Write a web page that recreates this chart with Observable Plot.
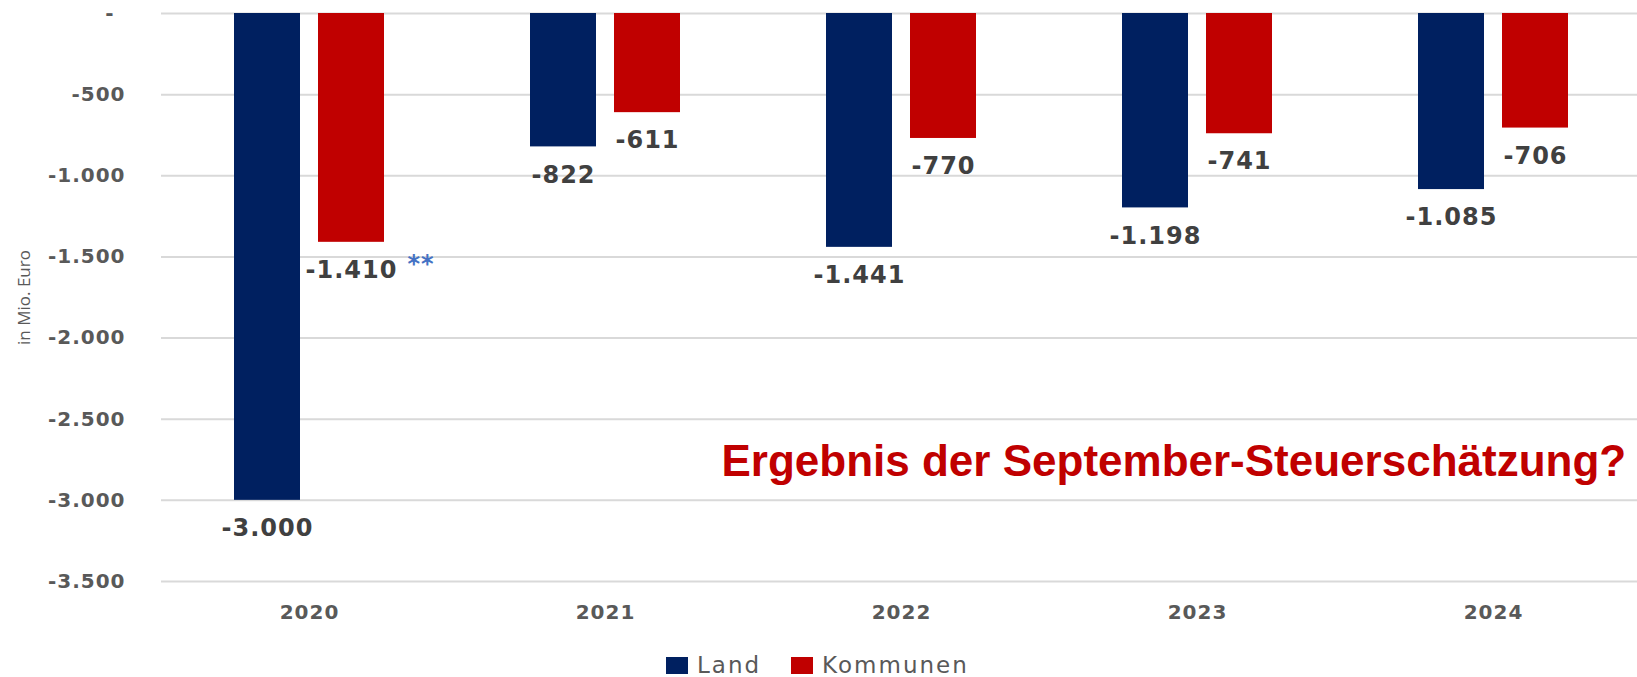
<!DOCTYPE html>
<html><head><meta charset="utf-8">
<script src="https://cdn.jsdelivr.net/npm/d3@7"></script>
<script src="https://cdn.jsdelivr.net/npm/@observablehq/plot@0.6"></script>
<style>
html,body{margin:0;padding:0;background:#fff;overflow:hidden;}
#wrap{position:relative;width:1637px;height:677px;}
#wrap svg text{letter-spacing:1px;}
.legend{position:absolute;top:652px;left:666px;display:flex;align-items:center;font-family:"DejaVu Sans";font-size:23px;letter-spacing:2px;color:#595959;line-height:26px;}
.legend .item{display:flex;align-items:center;margin-right:30px;}
.legend .sw{display:inline-block;width:22px;height:17px;margin-right:9px;}
</style></head><body><div id="wrap"></div>
<script>
const years = ["2020", "2021", "2022", "2023", "2024"];
const land = [-3000, -822, -1441, -1198, -1085];
const kommunen = [-1410, -611, -770, -741, -706];
const seriesNames = ["Land", "Kommunen"];
const seriesColors = ["#002060", "#c00000"];
const yTicks = [0, -500, -1000, -1500, -2000, -2500, -3000, -3500];
const footnotes = [{year: "2020", value: -1410, mark: "**"}];
const annotation = [{year: "2022", value: -2760, text: "Ergebnis der September-Steuerschätzung?"}];
const yLabel = "in Mio. Euro";

const de = d3.formatLocale({decimal: ",", thousands: ".", grouping: [3], currency: ["", " €"], minus: "-"});
const fmt = de.format(",d");
const tickFmt = d => d === 0 ? "-\u2002" : fmt(d);

const landRows = years.map((y, i) => ({year: y, value: land[i]}));
const kommRows = years.map((y, i) => ({year: y, value: kommunen[i]}));

const chart = Plot.plot({
  width: 1637,
  height: 640,
  marginTop: 13,
  marginBottom: 59,
  marginLeft: 161,
  marginRight: 0,
  style: {fontFamily: "DejaVu Sans", background: "#fff", color: "#595959"},
  x: {domain: years, range: [161, 1641], padding: 0},
  y: {domain: [-3500, 0]},
  marks: [
    Plot.ruleY(yTicks, {stroke: "#d9d9d9", strokeWidth: 2}),
    Plot.barY(landRows, {x: "year", y: "value", fill: seriesColors[0], dx: -42, insetLeft: 115, insetRight: 115}),
    Plot.barY(kommRows, {x: "year", y: "value", fill: seriesColors[1], dx: 42, insetLeft: 115, insetRight: 115}),
    Plot.text(landRows, {x: "year", y: "value", text: d => fmt(d.value), dx: -42, dy: 28, fontSize: 24, fontWeight: "bold", fill: "#404040"}),
    Plot.text(kommRows, {x: "year", y: "value", text: d => fmt(d.value), dx: 42, dy: 28, fontSize: 24, fontWeight: "bold", fill: "#404040"}),
    Plot.text(footnotes, {x: "year", y: "value", text: "mark", dx: 98, dy: 22, textAnchor: "start", fontSize: 24, fontWeight: "bold", fill: "#4472c4"}),
    Plot.text(annotation, {x: "year", y: "value", text: "text", dx: -180, textAnchor: "start", fontSize: 44, fontWeight: "bold", fontFamily: "Liberation Sans", fill: "#c00000"}),
    Plot.axisY({ticks: yTicks, tickFormat: tickFmt, tickSize: 0, tickPadding: 36, fontSize: 20, fontWeight: "bold", fill: "#595959",
      label: yLabel, labelArrow: "none", labelAnchor: "center", labelOffset: 144}),
    Plot.axisX({tickSize: 0, tickPadding: 23, fontSize: 20, fontWeight: "bold", fill: "#595959", label: null})
  ]
});
document.getElementById("wrap").appendChild(chart);
d3.select(chart).selectAll("text").filter(function(){ return this.textContent.startsWith("Ergebnis"); }).style("letter-spacing", "0px");
d3.select(chart).selectAll("text").filter(function(){ return this.textContent.trim().startsWith("in Mio"); })
  .attr("font-size", 17).attr("font-weight", "normal").style("font-weight", "normal").style("font-size", "17px")
  .style("letter-spacing", "0px").style("font-family", "Open Sans").attr("fill", "#595959");

const legend = d3.select("#wrap").append("div").attr("class", "legend");
seriesNames.forEach((name, i) => {
  const item = legend.append("div").attr("class", "item");
  item.append("span").attr("class", "sw").style("background", seriesColors[i]);
  item.append("span").text(name);
});
</script>
</body></html>
